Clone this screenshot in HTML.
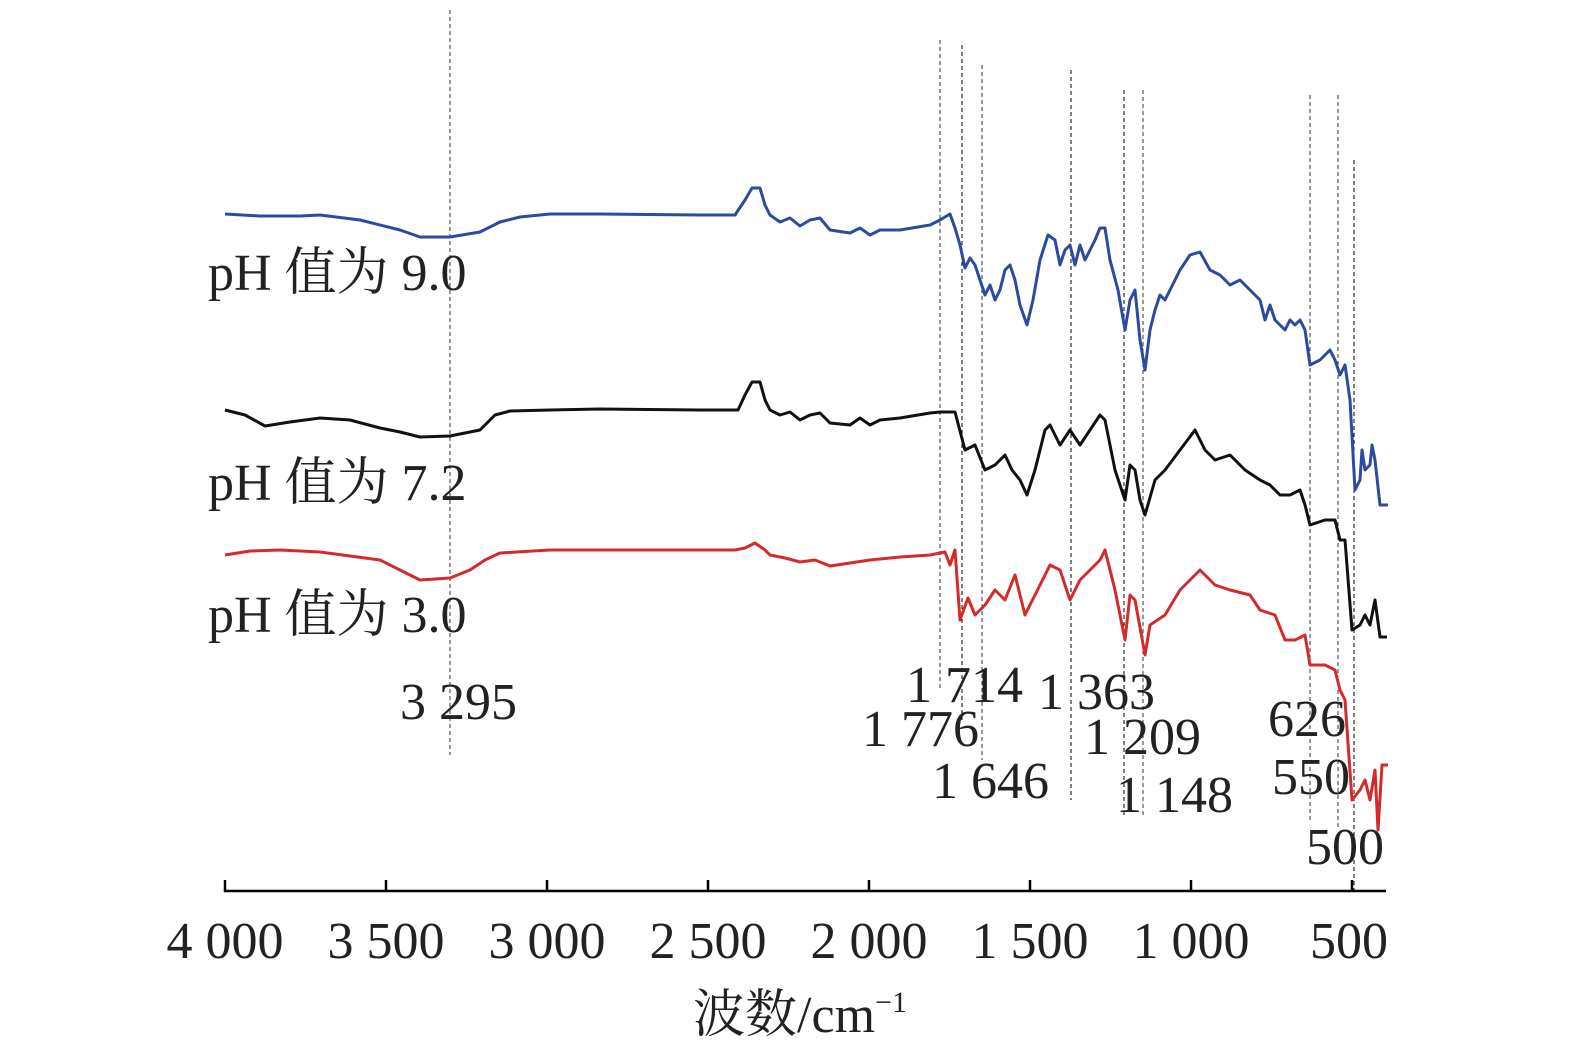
<!DOCTYPE html>
<html><head><meta charset="utf-8"><style>
html,body{margin:0;padding:0;background:#fff;}
svg{display:block;}
text{font-family:"Liberation Serif","Noto Serif CJK SC",serif;fill:#222;}
</style></head><body>
<svg width="1575" height="1054" viewBox="0 0 1575 1054" xmlns="http://www.w3.org/2000/svg">
<g stroke="#333" stroke-width="1" stroke-dasharray="4,3" fill="none">
<line x1="450" y1="10" x2="450" y2="755"/>
<line x1="940" y1="40" x2="940" y2="690"/>
<line x1="962" y1="45" x2="962" y2="720" stroke="#000"/>
<line x1="982" y1="65" x2="982" y2="760"/>
<line x1="1071" y1="70" x2="1071" y2="800" stroke="#000"/>
<line x1="1124" y1="90" x2="1124" y2="815" stroke="#000"/>
<line x1="1143" y1="90" x2="1143" y2="815"/>
<line x1="1310" y1="95" x2="1310" y2="820"/>
<line x1="1338" y1="95" x2="1338" y2="830"/>
<line x1="1354" y1="160" x2="1354" y2="890" stroke="#000"/>
</g>
<g fill="none" stroke-width="3" stroke-linejoin="round">
<polyline stroke="#2c4aa0" points="225,214 260,216 300,216 320,215 360,220 400,230 420,237 450,237 480,232 500,222 520,217 550,214 600,214 700,215 735,215 745,200 752,188 760,188 765,205 770,215 780,222 790,218 800,226 810,220 820,218 830,230 850,233 860,228 870,235 880,230 900,230 930,225 940,220 950,214 955,228 960,245 965,268 970,258 975,265 980,280 985,295 990,285 995,300 1000,290 1005,270 1010,265 1015,280 1020,305 1027,325 1033,300 1040,260 1048,235 1055,240 1060,265 1065,250 1070,245 1075,265 1080,245 1085,260 1090,250 1095,240 1100,228 1105,228 1110,260 1118,290 1125,330 1130,300 1135,290 1140,340 1145,370 1150,330 1155,310 1160,295 1165,300 1170,290 1180,270 1190,255 1200,252 1210,270 1220,275 1230,285 1240,280 1250,290 1260,300 1265,320 1270,305 1275,320 1280,325 1285,330 1290,320 1295,325 1300,320 1305,330 1310,365 1320,360 1325,355 1330,350 1335,360 1340,375 1345,365 1350,400 1355,490 1360,480 1362,450 1365,470 1370,465 1372,445 1375,460 1380,505 1388,505"/>
<polyline stroke="#111" points="225,410 245,415 265,426 290,422 320,418 350,420 380,428 400,432 420,437 450,436 480,430 495,415 510,411 550,410 600,409 700,410 738,410 745,395 752,382 760,382 765,400 770,410 780,415 790,412 800,420 810,415 820,413 830,423 850,425 860,418 870,425 880,420 900,418 930,413 940,412 955,412 965,450 975,445 985,470 995,465 1005,455 1012,470 1020,480 1027,495 1035,470 1045,430 1050,425 1060,445 1070,430 1080,445 1090,430 1100,415 1105,420 1115,470 1125,500 1130,465 1135,470 1140,500 1145,515 1155,480 1165,470 1180,450 1195,430 1205,450 1215,460 1230,455 1245,470 1260,480 1270,485 1280,495 1290,495 1300,490 1305,505 1310,525 1325,520 1335,520 1340,540 1345,540 1352,630 1360,625 1365,615 1370,625 1375,600 1380,637 1387,637"/>
<polyline stroke="#d42a2a" points="225,555 250,551 280,550 320,552 380,560 400,570 420,580 450,578 470,570 485,560 500,553 550,550 600,550 735,550 745,548 755,543 765,550 770,555 785,558 800,562 815,560 830,566 850,563 870,560 900,557 930,555 945,552 950,565 955,550 960,620 968,598 975,615 985,605 995,590 1005,600 1015,575 1025,615 1035,595 1050,565 1060,570 1070,600 1080,580 1090,570 1100,560 1105,550 1115,590 1125,640 1130,595 1135,600 1145,655 1150,625 1165,615 1180,590 1200,570 1215,585 1230,590 1250,595 1260,610 1275,615 1285,640 1295,640 1305,635 1310,665 1325,665 1335,670 1340,690 1345,700 1352,800 1360,790 1365,780 1370,800 1375,770 1378,830 1382,765 1388,765"/>
</g>
<g stroke="#000" stroke-width="2.5">
<line x1="224" y1="891" x2="1386" y2="891"/>
<line x1="225" y1="880" x2="225" y2="892"/>
<line x1="386" y1="880" x2="386" y2="892"/>
<line x1="547" y1="880" x2="547" y2="892"/>
<line x1="708" y1="880" x2="708" y2="892"/>
<line x1="869" y1="880" x2="869" y2="892"/>
<line x1="1030" y1="880" x2="1030" y2="892"/>
<line x1="1191" y1="880" x2="1191" y2="892"/>
<line x1="1352" y1="880" x2="1352" y2="892"/>
</g>
<g font-size="52" text-anchor="middle">
<text x="225" y="958">4 000</text>
<text x="386" y="958">3 500</text>
<text x="547" y="958">3 000</text>
<text x="708" y="958">2 500</text>
<text x="869" y="958">2 000</text>
<text x="1030" y="958">1 500</text>
<text x="1191" y="958">1 000</text>
<text x="1349" y="958">500</text>
<text x="800" y="1032">波数/cm<tspan font-size="30" dy="-20">−1</tspan></text>
</g>
<g font-size="52">
<text x="208" y="290">pH 值为 9.0</text>
<text x="208" y="500">pH 值为 7.2</text>
<text x="208" y="632">pH 值为 3.0</text>
<text x="400" y="719">3 295</text>
<text x="906" y="702">1 714</text>
<text x="862" y="746">1 776</text>
<text x="932" y="798">1 646</text>
<text x="1038" y="709">1 363</text>
<text x="1084" y="754">1 209</text>
<text x="1116" y="812">1 148</text>
<text x="1268" y="736">626</text>
<text x="1272" y="794">550</text>
<text x="1306" y="864">500</text>
</g>
</svg>
</body></html>
